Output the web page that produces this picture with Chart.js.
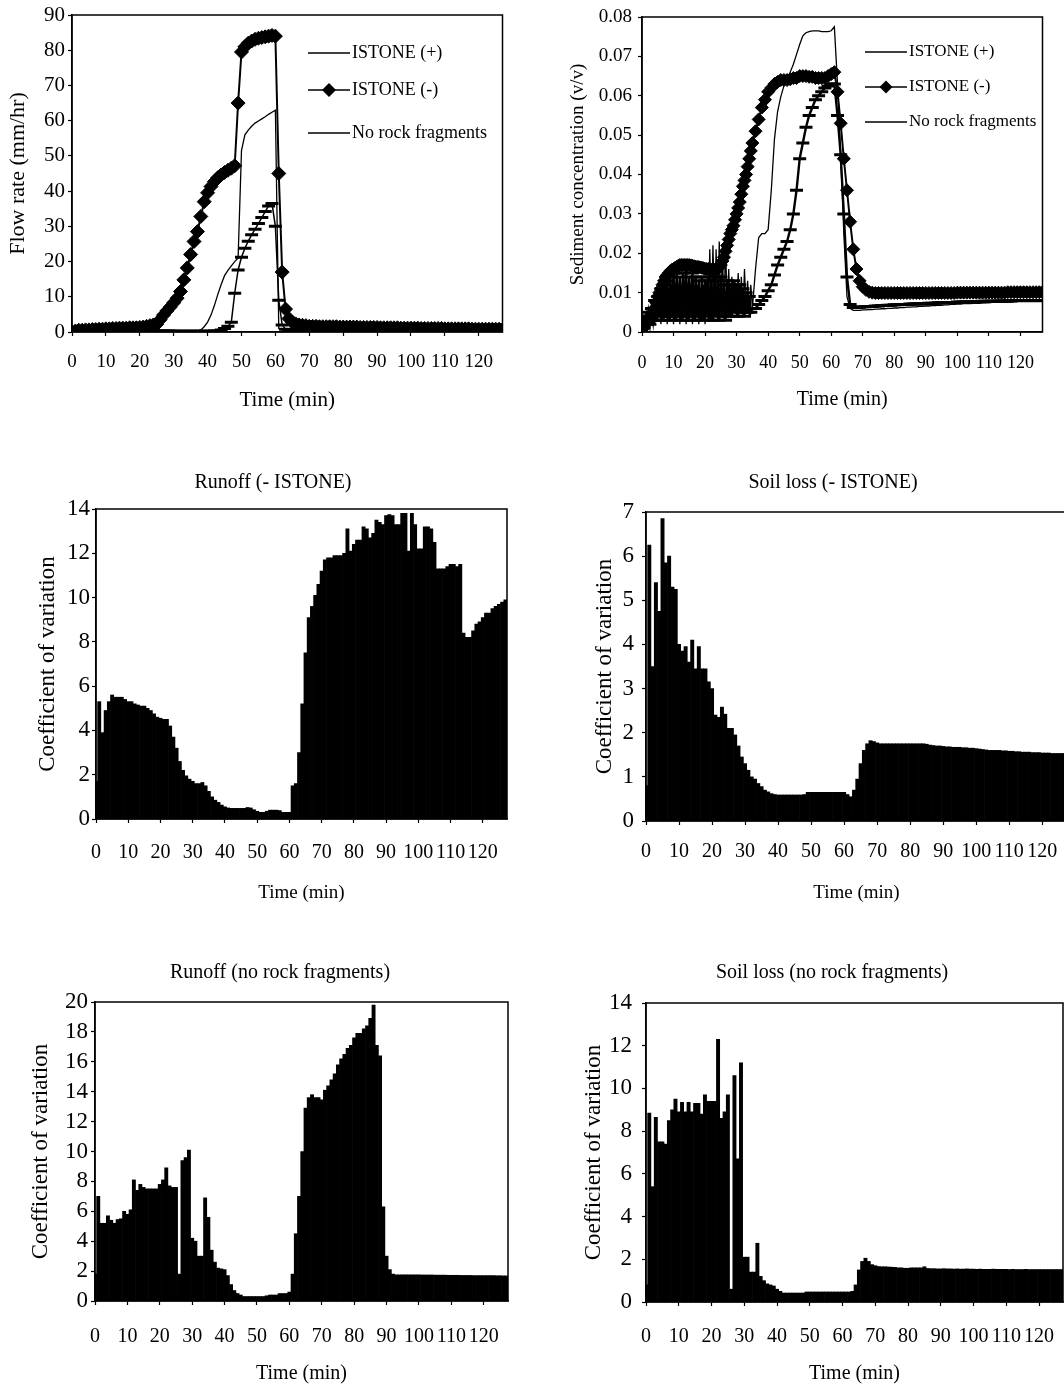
<!DOCTYPE html>
<html>
<head>
<meta charset="utf-8">
<script src="https://cdn.jsdelivr.net/npm/chart.js@4.4.1/dist/chart.umd.min.js"></script>
<style>
  html, body { margin: 0; padding: 0; background: #fff; overflow: hidden; }
  body { width: 1064px; height: 1390px; position: relative; }
  canvas { position: absolute; }
</style>
</head>
<body>
<canvas id="flow" width="507" height="413" style="left:5px;top:0px"></canvas>
<canvas id="sed" width="485" height="412" style="left:567px;top:0px"></canvas>
<canvas id="runoffMinus" width="478" height="444" style="left:34px;top:460px"></canvas>
<canvas id="soilMinus" width="476" height="444" style="left:591px;top:460px"></canvas>
<canvas id="runoffNone" width="486" height="436" style="left:27px;top:950px"></canvas>
<canvas id="soilNone" width="488" height="436" style="left:580px;top:950px"></canvas>
<script>
// ---- sampling grids ----
// one reading per minute, 0..127
const minutes = Array.from({ length: 128 }, (_, i) => i);
// sediment panel: half-minute readings 0..35, then one per minute 36..127
const sedTimes = [];
for (let t = 0; t <= 35; t += 0.5) sedTimes.push(t);
for (let t = 36; t <= 127; t++) sedTimes.push(t);

const timeTicks = [0, 10, 20, 30, 40, 50, 60, 70, 80, 90, 100, 110, 120];
const flowTicks = [0, 10, 20, 30, 40, 50, 60, 70, 80, 90];
const sedTicks = [0, 0.01, 0.02, 0.03, 0.04, 0.05, 0.06, 0.07, 0.08];
const cv14Ticks = [0, 2, 4, 6, 8, 10, 12, 14];
const cv7Ticks = [0, 1, 2, 3, 4, 5, 6, 7];
const cv20Ticks = [0, 2, 4, 6, 8, 10, 12, 14, 16, 18, 20];

// Flow rate (mm/hr), per minute
const flowPlus = [
  0.3,0.3,0.3,0.3,0.3,0.3,0.3,0.3,0.3,0.3,
  0.3,0.3,0.3,0.3,0.3,0.3,0.3,0.3,0.3,0.3,
  0.3,0.3,0.3,0.3,0.3,0.3,0.3,0.3,0.3,0.3,
  0.2,0.2,0.2,0.2,0.2,0.2,0.2,0.2,0.2,0.2,
  0.2,0.2,0.3,0.3,0.6,1.0,1.6,2.8,11.0,17.6,
  21.2,23.8,25.8,27.6,29.2,30.8,32.5,34.2,35.8,36.5,
  30.0,9.0,2.0,0.8,0.5,0.5,0.5,0.5,0.5,0.5,
  0.5,0.5,0.5,0.5,0.5,0.5,0.5,0.5,0.5,0.5,
  0.4,0.4,0.4,0.4,0.4,0.4,0.4,0.4,0.4,0.4,
  0.4,0.4,0.4,0.4,0.4,0.4,0.4,0.4,0.4,0.4,
  0.4,0.4,0.4,0.4,0.4,0.4,0.4,0.4,0.4,0.4,
  0.3,0.3,0.3,0.3,0.3,0.3,0.3,0.3,0.3,0.3,
  0.3,0.3,0.3,0.3,0.3,0.3,0.3,0.3
];
const flowMinus = [
  0.0,0.3,0.5,0.5,0.6,0.6,0.7,0.7,0.8,0.8,
  0.9,0.9,1.0,1.0,1.1,1.1,1.1,1.2,1.2,1.2,
  1.3,1.4,1.6,1.8,2.0,2.2,3.5,4.8,6.0,7.1,
  8.3,9.6,11.5,14.8,18.2,22.0,25.7,28.5,32.8,37.0,
  39.5,41.3,42.7,43.8,44.6,45.3,45.9,46.5,47.2,65.0,
  79.5,81.0,82.0,82.6,83.1,83.4,83.6,83.8,84.0,84.2,
  84.0,45.0,17.0,6.5,3.8,2.8,2.3,2.0,1.9,1.8,
  1.6,1.6,1.6,1.5,1.5,1.5,1.5,1.5,1.5,1.4,
  1.4,1.4,1.4,1.4,1.4,1.3,1.3,1.3,1.3,1.3,
  1.3,1.2,1.2,1.2,1.2,1.2,1.2,1.1,1.1,1.1,
  1.1,1.1,1.1,1.0,1.0,1.0,1.0,1.0,1.0,1.0,
  0.9,0.9,0.9,0.9,0.9,0.9,0.9,0.9,0.8,0.8,
  0.8,0.8,0.8,0.8,0.8,0.8,0.8,0.7
];
const flowNone = [
  0.2,0.2,0.2,0.2,0.2,0.2,0.2,0.2,0.2,0.2,
  0.2,0.2,0.2,0.2,0.2,0.2,0.2,0.2,0.2,0.2,
  0.2,0.2,0.2,0.2,0.2,0.2,0.2,0.2,0.2,0.2,
  0.2,0.2,0.2,0.2,0.2,0.2,0.2,0.3,0.6,1.5,
  2.8,4.8,7.5,10.6,13.5,16.0,17.5,18.8,20.0,21.0,
  51.5,56.0,57.3,58.4,59.3,59.9,60.5,61.1,61.8,62.4,
  63.0,1.0,0.6,0.5,0.4,0.4,0.4,0.4,0.4,0.4,
  0.4,0.4,0.4,0.4,0.4,0.4,0.4,0.4,0.4,0.4,
  0.4,0.4,0.4,0.4,0.4,0.4,0.4,0.4,0.4,0.4,
  0.3,0.3,0.3,0.3,0.3,0.3,0.3,0.3,0.3,0.3,
  0.3,0.3,0.3,0.3,0.3,0.3,0.3,0.3,0.3,0.3,
  0.3,0.3,0.3,0.3,0.3,0.3,0.3,0.3,0.3,0.3,
  0.3,0.3,0.3,0.3,0.3,0.3,0.3,0.3
];

// Sediment concentration (v/v), on sedTimes
const sedPlus = [
  // 0 .. 34.5 (half minutes)
  0.001,0.003,0.004,0.002,0.005,0.002,0.006,0.003,0.008,0.003,
  0.009,0.004,0.011,0.003,0.012,0.004,0.013,0.003,0.014,0.004,
  0.015,0.003,0.015,0.004,0.014,0.003,0.015,0.004,0.016,0.003,
  0.014,0.004,0.015,0.003,0.014,0.004,0.013,0.003,0.014,0.003,
  0.013,0.004,0.014,0.003,0.013,0.003,0.014,0.004,0.013,0.003,
  0.014,0.004,0.012,0.003,0.013,0.004,0.012,0.004,0.013,0.005,
  0.012,0.004,0.012,0.005,0.011,0.004,0.010,0.005,0.009,0.005,
  // 35 .. 127
  0.006,
  0.006,0.007,0.008,0.009,
  0.0105,0.012,0.0145,0.017,0.019,0.021,0.023,0.026,0.030,0.036,
  0.044,0.048,0.052,0.055,0.057,0.059,0.060,0.061,0.062,0.0625,
  0.063,0.063,0.055,0.045,0.030,0.014,0.007,0.0062,0.0062,0.0063,
  0.0064,0.0064,0.0065,0.0065,0.0066,0.0066,0.0067,0.0067,0.0068,0.0068,
  0.0069,0.0069,0.0070,0.0070,0.0070,0.0071,0.0071,0.0071,0.0072,0.0072,
  0.0072,0.0073,0.0073,0.0073,0.0074,0.0074,0.0074,0.0075,0.0075,0.0075,
  0.0076,0.0076,0.0076,0.0076,0.0077,0.0077,0.0077,0.0077,0.0078,0.0078,
  0.0078,0.0078,0.0078,0.0079,0.0079,0.0079,0.0079,0.0079,0.0080,0.0080,
  0.0080,0.0080,0.0080,0.0080,0.0080,0.0080,0.0080,0.0080
];
const sedMinus = [
  // 0 .. 34.5 (half minutes)
  0.000,0.001,0.002,0.0025,0.003,0.0035,0.004,0.005,0.006,0.0075,
  0.009,0.010,0.011,0.012,0.013,0.014,0.0145,0.015,0.0155,0.0158,
  0.016,0.0163,0.0165,0.0168,0.017,0.017,0.017,0.017,0.017,0.017,
  0.017,0.0169,0.0168,0.0167,0.0166,0.0165,0.0165,0.0164,0.0163,0.0162,
  0.016,0.016,0.016,0.0159,0.0158,0.0158,0.0158,0.0159,0.016,0.0165,
  0.017,0.018,0.019,0.0205,0.022,0.0235,0.025,0.026,0.027,0.0285,
  0.030,0.0315,0.033,0.035,0.037,0.0385,0.040,0.042,0.044,0.046,
  // 35 .. 127
  0.048,
  0.051,0.054,0.057,0.059,
  0.061,0.062,0.063,0.0635,0.064,0.064,0.064,0.0642,0.0645,0.0645,
  0.065,0.065,0.065,0.0648,0.0648,0.0645,0.0645,0.0645,0.0645,0.065,
  0.0655,0.066,0.061,0.053,0.044,0.036,0.028,0.021,0.016,0.013,
  0.0115,0.0107,0.0102,0.0100,0.0099,0.0099,0.0099,0.0099,0.0099,0.0099,
  0.0099,0.0099,0.0099,0.0099,0.0099,0.0099,0.0099,0.0099,0.0099,0.0099,
  0.0099,0.0099,0.0099,0.0099,0.0099,0.0099,0.0099,0.0099,0.0099,0.0099,
  0.0100,0.0100,0.0100,0.0100,0.0100,0.0100,0.0100,0.0100,0.0100,0.0100,
  0.0100,0.0100,0.0100,0.0100,0.0100,0.0100,0.0101,0.0101,0.0101,0.0101,
  0.0101,0.0101,0.0101,0.0101,0.0101,0.0101,0.0101,0.0101
];
const sedNone = [
  // 0 .. 34.5 (half minutes)
  0.002,0.004,0.002,0.005,0.002,0.006,0.002,0.007,0.002,0.008,
  0.003,0.009,0.002,0.010,0.003,0.011,0.002,0.011,0.003,0.012,
  0.002,0.011,0.003,0.012,0.002,0.011,0.003,0.012,0.002,0.011,
  0.003,0.012,0.002,0.011,0.003,0.012,0.002,0.011,0.003,0.012,
  0.002,0.013,0.003,0.021,0.003,0.022,0.004,0.021,0.003,0.023,
  0.004,0.022,0.003,0.024,0.004,0.016,0.004,0.014,0.005,0.013,
  0.004,0.015,0.005,0.014,0.004,0.016,0.005,0.013,0.004,0.012,
  // 35 .. 127
  0.006,
  0.016,0.024,0.025,0.025,
  0.026,0.036,0.049,0.056,0.0597,0.0625,0.064,0.066,0.068,0.0705,
  0.073,0.0752,0.076,0.0763,0.0765,0.0765,0.0765,0.0763,0.0763,0.0763,
  0.0765,0.0775,0.063,0.045,0.025,0.009,0.006,0.0055,0.0055,0.0055,
  0.0056,0.0056,0.0057,0.0057,0.0058,0.0058,0.0059,0.0059,0.0060,0.0060,
  0.0061,0.0061,0.0062,0.0062,0.0063,0.0063,0.0064,0.0064,0.0065,0.0065,
  0.0066,0.0066,0.0067,0.0067,0.0068,0.0068,0.0069,0.0069,0.0070,0.0070,
  0.0071,0.0071,0.0072,0.0072,0.0072,0.0073,0.0073,0.0073,0.0074,0.0074,
  0.0074,0.0075,0.0075,0.0075,0.0076,0.0076,0.0076,0.0076,0.0077,0.0077,
  0.0077,0.0077,0.0077,0.0077,0.0077,0.0077,0.0077,0.0077
];

// Coefficient of variation, per minute
const runoffMinusCv = [
  1.7,5.3,3.9,4.9,5.3,5.6,5.5,5.5,5.5,5.4,
  5.3,5.3,5.2,5.15,5.1,5.1,5.0,4.9,4.75,4.6,
  4.55,4.5,4.5,4.2,3.7,3.2,2.6,2.2,1.95,1.8,
  1.7,1.6,1.6,1.65,1.5,1.25,1.0,0.85,0.75,0.63,
  0.55,0.5,0.48,0.48,0.48,0.48,0.48,0.52,0.5,0.42,
  0.35,0.3,0.3,0.35,0.4,0.4,0.4,0.38,0.3,0.3,
  0.3,1.5,1.6,3.0,5.2,7.5,9.1,9.6,10.1,10.6,
  11.2,11.7,11.8,11.8,11.9,11.9,11.9,12.0,13.1,12.1,
  12.4,12.6,12.6,13.2,13.1,12.7,12.9,13.5,13.4,13.3,
  13.7,13.75,13.7,13.3,13.3,13.8,13.8,12.1,13.8,13.3,
  12.2,12.2,13.2,13.2,13.1,12.5,11.3,11.3,11.3,11.4,
  11.5,11.5,11.4,11.5,8.4,8.2,8.2,8.5,8.8,8.9,
  9.1,9.3,9.3,9.5,9.6,9.7,9.8,9.9
];
const soilMinusCv = [
  0.8,6.25,3.5,5.4,4.75,6.85,5.85,6.0,5.3,5.25,
  4.0,3.85,3.95,3.6,4.1,3.45,3.95,3.45,3.45,3.15,
  3.0,2.4,2.35,2.58,2.42,2.1,2.1,1.95,1.7,1.45,
  1.3,1.15,1.0,0.95,0.85,0.78,0.7,0.66,0.62,0.6,
  0.59,0.59,0.59,0.59,0.59,0.59,0.59,0.59,0.6,0.65,
  0.65,0.65,0.65,0.65,0.65,0.65,0.65,0.65,0.65,0.65,
  0.65,0.6,0.55,0.7,0.95,1.3,1.6,1.75,1.82,1.8,
  1.77,1.75,1.75,1.75,1.75,1.75,1.75,1.75,1.75,1.75,
  1.75,1.75,1.75,1.75,1.75,1.74,1.72,1.71,1.7,1.7,
  1.69,1.68,1.68,1.67,1.67,1.67,1.66,1.66,1.65,1.65,
  1.64,1.63,1.62,1.61,1.6,1.6,1.6,1.6,1.59,1.59,
  1.58,1.58,1.57,1.57,1.56,1.56,1.56,1.55,1.55,1.55,
  1.54,1.54,1.54,1.53,1.53,1.53,1.53,1.53
];
const runoffNoneCv = [
  1.8,7.0,5.2,5.2,5.7,5.4,5.2,5.45,5.5,6.0,
  5.8,6.1,8.1,7.4,7.8,7.6,7.5,7.5,7.5,7.5,
  7.8,8.1,8.9,7.7,7.6,7.6,1.8,9.4,9.6,10.1,
  4.2,4.0,3.0,3.0,6.9,5.6,3.4,2.6,2.2,2.15,
  2.1,1.7,1.1,0.7,0.5,0.4,0.3,0.3,0.3,0.3,
  0.3,0.3,0.3,0.35,0.4,0.4,0.4,0.5,0.5,0.5,
  0.6,1.8,4.5,7.0,10.0,12.9,13.6,13.8,13.6,13.6,
  13.45,14.1,14.4,14.8,15.2,15.8,16.2,16.5,16.9,17.1,
  17.6,17.9,17.9,18.2,18.4,18.9,19.8,17.1,16.4,6.3,
  3.0,2.1,1.8,1.75,1.75,1.75,1.75,1.75,1.75,1.75,
  1.75,1.74,1.74,1.74,1.74,1.73,1.73,1.73,1.73,1.72,
  1.72,1.72,1.72,1.71,1.71,1.71,1.71,1.7,1.7,1.7,
  1.7,1.7,1.7,1.7,1.69,1.69,1.68,1.68
];
const soilNoneCv = [
  0.8,8.85,5.4,8.65,7.5,7.5,7.4,8.5,9.0,9.5,
  8.9,9.35,8.9,9.35,8.9,9.3,9.3,8.8,9.7,9.4,
  9.4,9.4,12.3,8.6,8.9,9.7,0.6,10.6,6.7,11.2,
  2.1,2.1,1.4,1.4,2.75,1.2,1.0,0.85,0.8,0.75,
  0.6,0.5,0.42,0.42,0.42,0.42,0.42,0.42,0.42,0.47,
  0.47,0.47,0.47,0.47,0.47,0.47,0.47,0.47,0.47,0.47,
  0.47,0.47,0.47,0.5,0.8,1.5,1.9,2.05,1.9,1.75,
  1.7,1.66,1.65,1.65,1.64,1.63,1.62,1.6,1.6,1.58,
  1.58,1.6,1.6,1.6,1.6,1.65,1.57,1.56,1.56,1.55,
  1.55,1.56,1.55,1.55,1.54,1.55,1.54,1.54,1.55,1.54,
  1.54,1.53,1.54,1.53,1.53,1.53,1.54,1.53,1.53,1.53,
  1.53,1.52,1.53,1.52,1.52,1.52,1.53,1.52,1.52,1.52,
  1.52,1.52,1.52,1.52,1.52,1.52,1.52,1.52
];

// ---- drawing ----
const SERIF = "'Liberation Serif', 'Times New Roman', serif";
const f = size => ({ family: SERIF, size: size, lineHeight: 1.2 });
const pts = (times, vals) => times.map((t, i) => ({ x: t, y: vals[i] }));

// box round the plot area
const framePlugin = {
  id: 'frame',
  afterDraw(chart) {
    const a = chart.chartArea, ctx = chart.ctx;
    ctx.save();
    ctx.strokeStyle = '#000';
    ctx.lineWidth = 1.5;
    ctx.strokeRect(a.left, a.top, a.right - a.left, a.bottom - a.top);
    ctx.restore();
  }
};

const panelTitle = {
  id: 'panelTitle',
  afterDraw(chart, args, opts) {
    if (!opts.text) return;
    const ctx = chart.ctx;
    ctx.save();
    ctx.font = opts.size + 'px ' + SERIF;
    ctx.fillStyle = '#000';
    ctx.textAlign = 'center';
    ctx.textBaseline = 'middle';
    ctx.fillText(opts.text, opts.x, opts.y);
    ctx.restore();
  }
};

// legend drawn inside the plot, like the original
const insideLegend = {
  id: 'insideLegend',
  afterDraw(chart, args, opts) {
    if (!opts.ys) return;
    const ctx = chart.ctx;
    ctx.save();
    ctx.fillStyle = '#000';
    ctx.strokeStyle = '#000';
    ctx.font = opts.size + 'px ' + SERIF;
    ctx.textBaseline = 'middle';
    chart.data.datasets.forEach((ds, i) => {
      const y = opts.ys[i], x0 = opts.x, x1 = opts.x + opts.len, cx = (x0 + x1) / 2;
      ctx.lineWidth = Math.min(ds.borderWidth, 1.6);
      ctx.beginPath(); ctx.moveTo(x0, y); ctx.lineTo(x1, y); ctx.stroke();
      if (ds.pointStyle === 'rectRot' && ds.pointRadius > 0) {
        const r = ds.pointRadius;
        ctx.beginPath();
        ctx.moveTo(cx, y - r); ctx.lineTo(cx + r, y); ctx.lineTo(cx, y + r); ctx.lineTo(cx - r, y);
        ctx.closePath(); ctx.fill();
      }
      ctx.fillText(ds.label, x1 + 2, y);
    });
    ctx.restore();
  }
};

Chart.register(framePlugin, panelTitle, insideLegend);

const gridOpts = { drawOnChartArea: false, drawTicks: true, tickLength: 4, tickColor: '#000', tickWidth: 1.2, offset: false };
const borderOpts = { display: true, color: '#000', width: 1.5 };

function xScale(g) {
  return {
    type: 'linear', min: 0, max: g.xMax, offset: false,
    afterBuildTicks: s => { s.ticks = timeTicks.map(v => ({ value: v })); },
    afterFit: s => { s.height = g.xh; s.paddingLeft = 0; s.paddingRight = 0; },
    grid: gridOpts, border: borderOpts,
    ticks: { color: '#000', font: f(g.xtf), padding: g.xtp, autoSkip: false, maxRotation: 0, minRotation: 0 },
    title: { display: true, text: 'Time (min)', color: '#000', font: f(g.xttf), padding: 0 }
  };
}

function yScale(g, max, ticks, label, fmt) {
  return {
    type: 'linear', min: 0, max: max,
    afterBuildTicks: s => { s.ticks = ticks.map(v => ({ value: v })); },
    afterFit: s => { s.width = g.yw; s.paddingTop = 0; s.paddingBottom = 0; },
    grid: gridOpts, border: borderOpts,
    ticks: { color: '#000', font: f(g.ytf), padding: g.ytp, autoSkip: false, callback: fmt || (v => String(v)) },
    title: { display: true, text: label, color: '#000', font: f(g.yttf), padding: 0 }
  };
}

function baseOptions(g, yMax, yTicks, yLabel, fmt, plugins) {
  return {
    responsive: false,
    animation: false,
    events: [],
    layout: { padding: { top: g.padTop, right: g.padRight, left: 0, bottom: 0 } },
    scales: { x: xScale(g), y: yScale(g, yMax, yTicks, yLabel, fmt) },
    plugins: Object.assign({ legend: { display: false }, tooltip: { enabled: false } }, plugins)
  };
}

function lineSets(times, plus, minus, none, diamond, plusWidth) {
  return [
    { label: 'ISTONE (+)', data: pts(times, plus), borderColor: '#000', borderWidth: plusWidth, tension: 0,
      pointStyle: 'line', pointRadius: 6.5, pointBorderWidth: 3, pointBorderColor: '#000', pointBackgroundColor: '#000' },
    { label: 'ISTONE (-)', data: pts(times, minus), borderColor: '#000', borderWidth: 2, tension: 0,
      pointStyle: 'rectRot', pointRadius: diamond, pointBorderWidth: 1, pointBorderColor: '#000', pointBackgroundColor: '#000' },
    { label: 'No rock fragments', data: pts(times, none), borderColor: '#000', borderWidth: 1.3, tension: 0, pointRadius: 0 }
  ];
}

function barPanel(id, values, yMax, yTicks, title, g) {
  new Chart(document.getElementById(id), {
    type: 'bar',
    data: { datasets: [{ data: pts(minutes, values), backgroundColor: '#000', borderWidth: 0,
      barPercentage: 1, categoryPercentage: 1 }] },
    options: baseOptions(g, yMax, yTicks, 'Coefficient of variation', null,
      { panelTitle: { text: title, x: g.titleX, y: 23, size: 20 } })
  });
}

// top left: flow rate
const gFlow = { padTop: 15, padRight: 5, yw: 67, xh: 81, xMax: 127, ytf: 21, ytp: 3, xtf: 19, xtp: 15, yttf: 22, xttf: 21 };
new Chart(document.getElementById('flow'), {
  type: 'line',
  data: { datasets: lineSets(minutes, flowPlus, flowMinus, flowNone, 7, 1.5) },
  options: baseOptions(gFlow, 90, flowTicks, 'Flow rate (mm/hr)', null,
    { insideLegend: { x: 303, len: 42, ys: [53, 90, 133], size: 18 } })
});

// top right: sediment concentration
const gSed = { padTop: 17, padRight: 5, yw: 75, xh: 80, xMax: 127, ytf: 19, ytp: 6, xtf: 18, xtp: 16, yttf: 19, xttf: 20 };
new Chart(document.getElementById('sed'), {
  type: 'line',
  data: { datasets: lineSets(sedTimes, sedPlus, sedMinus, sedNone, 6.5, 2.4) },
  options: baseOptions(gSed, 0.08, sedTicks, 'Sediment concentration (v/v)',
    v => (v === 0 ? '0' : v.toFixed(2)),
    { insideLegend: { x: 298, len: 42, ys: [52, 87, 122], size: 17 } })
});

barPanel('runoffMinus', runoffMinusCv, 14, cv14Ticks, 'Runoff (- ISTONE)',
  { padTop: 49, padRight: 5, yw: 62, xh: 85, xMax: 127.5, ytf: 23, ytp: 2, xtf: 20, xtp: 18, yttf: 23, xttf: 19, titleX: 239 });
barPanel('soilMinus', soilMinusCv, 7, cv7Ticks, 'Soil loss (- ISTONE)',
  { padTop: 52, padRight: 0, yw: 55, xh: 83, xMax: 127.5, ytf: 23, ytp: 8, xtf: 20, xtp: 15, yttf: 23, xttf: 19, titleX: 242 });
barPanel('runoffNone', runoffNoneCv, 20, cv20Ticks, 'Runoff (no rock fragments)',
  { padTop: 52, padRight: 5, yw: 68, xh: 85, xMax: 127.5, ytf: 23, ytp: 3, xtf: 20, xtp: 20, yttf: 23, xttf: 20, titleX: 253 });
barPanel('soilNone', soilNoneCv, 14, cv14Ticks, 'Soil loss (no rock fragments)',
  { padTop: 53, padRight: 5, yw: 66, xh: 84, xMax: 127.3, ytf: 23, ytp: 10, xtf: 20, xtp: 19, yttf: 23, xttf: 20, titleX: 252 });
</script>
</body>
</html>
